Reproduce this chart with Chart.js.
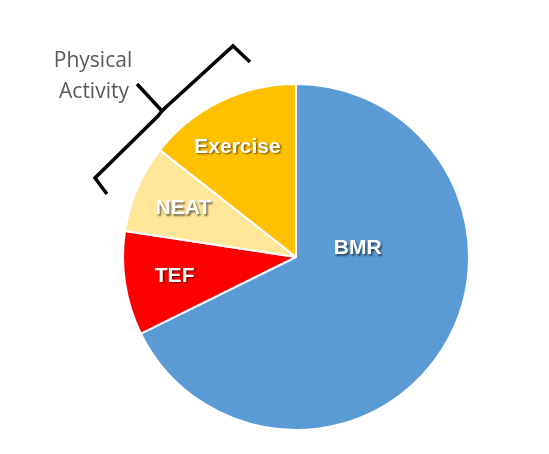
<!DOCTYPE html>
<html>
<head>
<meta charset="utf-8">
<script src="https://cdn.jsdelivr.net/npm/chart.js@4.4.1/dist/chart.umd.min.js"></script>
<style>
  html, body { margin: 0; padding: 0; background: #ffffff; }
  #wrap { position: relative; width: 549px; height: 454px; }
  #energyPie { display: block; }
</style>
</head>
<body>
<div id="wrap">
  <canvas id="energyPie" width="549" height="454"></canvas>
</div>
<script>
// share of daily energy expenditure (%)
const categories = ['BMR', 'TEF', 'NEAT', 'Exercise']
const shares = [67.7, 9.7, 8.2, 14.4]
const sliceColors = ['#5b9bd5', '#ff0000', '#ffe699', '#ffc000']
const groupLabel = ['Physical', 'Activity']

// BMR label isn't at the slice middle in the original, nudge it
const labelOverride = {
  BMR: { angle: 82, radius: 0.36 },
  Exercise: { angle: 332, radius: 0.72 }
}

const sliceLabels = {
  id: 'sliceLabels',
  afterDatasetsDraw(chart) {
    const { ctx } = chart
    const arcs = chart.getDatasetMeta(0).data
    ctx.save()
    ctx.font = 'bold 21px "Liberation Sans", Arial, sans-serif'
    ctx.textAlign = 'center'
    ctx.textBaseline = 'middle'
    ctx.fillStyle = '#ffffff'
    ctx.shadowColor = 'rgba(0, 0, 0, 0.55)'
    ctx.shadowOffsetX = 1.5
    ctx.shadowOffsetY = 1.5
    ctx.shadowBlur = 2
    arcs.forEach((arc, i) => {
      const name = categories[i]
      let angle = (arc.startAngle + arc.endAngle) / 2
      let r = arc.outerRadius * 0.71
      const o = labelOverride[name]
      if (o) {
        angle = (o.angle * Math.PI) / 180 - Math.PI / 2
        r = arc.outerRadius * o.radius
      }
      ctx.fillText(name, arc.x + Math.cos(angle) * r, arc.y + Math.sin(angle) * r)
    })
    ctx.restore()
  }
}

// the curly bracket + "Physical Activity" note in the upper left
const bracketNote = {
  id: 'bracketNote',
  afterDraw(chart) {
    const { ctx } = chart
    ctx.save()
    ctx.strokeStyle = '#000000'
    ctx.lineWidth = 3.5
    ctx.lineJoin = 'miter'
    ctx.lineCap = 'butt'
    ctx.beginPath()
    ctx.moveTo(250, 62)
    ctx.lineTo(233, 46)
    ctx.lineTo(165, 108)
    ctx.quadraticCurveTo(161, 112, 158, 116)
    ctx.lineTo(95, 178)
    ctx.lineTo(107, 194)
    ctx.stroke()
    ctx.beginPath()
    ctx.moveTo(162, 111)
    ctx.lineTo(137, 84)
    ctx.stroke()

    ctx.font = '21px "Open Sans", "Noto Sans", sans-serif'
    ctx.fillStyle = '#595959'
    ctx.textAlign = 'center'
    ctx.textBaseline = 'middle'
    ctx.fillText(groupLabel[0], 93, 61)
    ctx.fillText(groupLabel[1], 94, 92)
    ctx.restore()
  }
}

const ctx = document.getElementById('energyPie')
new Chart(ctx, {
  type: 'pie',
  data: {
    labels: categories,
    datasets: [
      {
        data: shares,
        backgroundColor: sliceColors,
        borderColor: '#ffffff',
        borderWidth: 2
      }
    ]
  },
  options: {
    responsive: false,
    devicePixelRatio: 1,
    animation: false,
    layout: {
      padding: { left: 122, right: 79, top: 83, bottom: 23 }
    },
    plugins: {
      legend: { display: false },
      title: { display: false },
      tooltip: { enabled: false }
    }
  },
  plugins: [sliceLabels, bracketNote]
})
</script>
</body>
</html>
